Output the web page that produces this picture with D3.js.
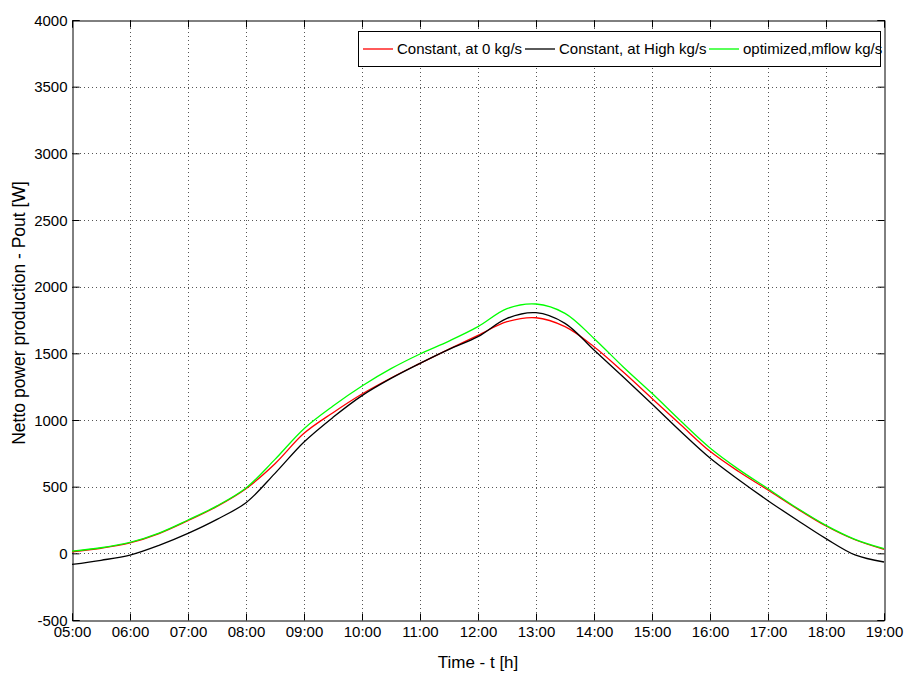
<!DOCTYPE html>
<html>
<head>
<meta charset="utf-8">
<script src="https://cdn.jsdelivr.net/npm/d3@7"></script>
<style>
body { margin: 0; background: #fff; }
text { font-family: "Liberation Sans", Arial, sans-serif; }
</style>
</head>
<body>
<div id="chart"></div>
<script>
// hours from 05:00 to 19:00, half hour steps
var hours = [5, 5.5, 6, 6.5, 7, 7.5, 8, 8.5, 9, 9.5, 10, 10.5, 11, 11.5, 12,
             12.5, 13, 13.5, 14, 14.5, 15, 15.5, 16, 16.5, 17, 17.5, 18, 18.5, 19];

var constZero = [12, 38, 78, 148, 245, 352, 485, 672, 900, 1055, 1195, 1315, 1425, 1532, 1635,
                 1737, 1767, 1700, 1550, 1362, 1162, 962, 765, 612, 475, 335, 205, 102, 30];
var constHigh = [-83, -52, -13, 60, 150, 255, 380, 600, 835, 1020, 1183, 1312, 1425, 1530, 1625,
                 1762, 1805, 1725, 1525, 1325, 1120, 912, 715, 550, 395, 250, 110, -12, -65];
var optimized = [17, 42, 82, 152, 250, 356, 490, 705, 935, 1105, 1255, 1385, 1495, 1592, 1700,
                 1835, 1870, 1800, 1612, 1400, 1200, 990, 790, 628, 485, 340, 210, 105, 35];

var seriesNames = ["Constant, at 0 kg/s", "Constant, at High kg/s", "optimized,mflow kg/s"];
var seriesColors = ["#ff0000", "#000000", "#00ff00"];
var seriesValues = [constZero, constHigh, optimized];

var xTicks = [5, 6, 7, 8, 9, 10, 11, 12, 13, 14, 15, 16, 17, 18, 19];
var yTicks = [-500, 0, 500, 1000, 1500, 2000, 2500, 3000, 3500, 4000];

var W = 907, H = 675;
var plotLeft = 72, plotRight = 884, plotTop = 20, plotBottom = 620;

var svg = d3.select("#chart").append("svg")
    .attr("width", W)
    .attr("height", H);

var x = d3.scaleLinear().domain([5, 19]).range([plotLeft, plotRight]);
var y = d3.scaleLinear().domain([-500, 4000]).range([plotBottom, plotTop]);

function hhmm(h) {
    return (h < 10 ? "0" : "") + h + ":00";
}

// grid
var grid = svg.append("g");
grid.selectAll(".vg")
    .data(xTicks.slice(1, -1))
    .enter()
    .append("line")
    .attr("x1", d => Math.round(x(d)) + 0.5)
    .attr("x2", d => Math.round(x(d)) + 0.5)
    .attr("y1", plotTop)
    .attr("y2", plotBottom)
    .attr("stroke", "#555")
    .attr("stroke-dasharray", "1,3");
grid.selectAll(".hg")
    .data(yTicks.slice(1, -1))
    .enter()
    .append("line")
    .attr("x1", plotLeft)
    .attr("x2", plotRight)
    .attr("y1", d => Math.round(y(d)) + 0.5)
    .attr("y2", d => Math.round(y(d)) + 0.5)
    .attr("stroke", "#555")
    .attr("stroke-dasharray", "1,3");

// axes, ticks pointing inward
var xAxis = d3.axisBottom(x).tickValues(xTicks).tickFormat(hhmm).tickSize(-7).tickPadding(7);
var yAxis = d3.axisLeft(y).tickValues(yTicks).tickFormat(d => String(d)).tickSize(-7).tickPadding(5);

var gx = svg.append("g")
    .attr("transform", "translate(0," + (plotBottom + 0.5) + ")")
    .call(xAxis);
var gy = svg.append("g")
    .attr("transform", "translate(" + (plotLeft + 0.5) + ",0)")
    .call(yAxis);

// top and right axes without labels
var gxTop = svg.append("g")
    .attr("transform", "translate(0," + (plotTop + 0.5) + ")")
    .call(d3.axisTop(x).tickValues(xTicks).tickSize(-7).tickFormat(""));
var gyRight = svg.append("g")
    .attr("transform", "translate(" + (plotRight + 0.5) + ",0)")
    .call(d3.axisRight(y).tickValues(yTicks).tickSize(-7).tickFormat(""));

[gx, gy, gxTop, gyRight].forEach(function (g) {
    g.select(".domain").attr("stroke", "#000");
    g.selectAll(".tick line").attr("stroke", "#000");
    g.selectAll(".tick text")
        .attr("fill", "#000")
        .style("font-size", "15px");
});
gx.selectAll(".tick text").attr("dy", "0.6em");
gy.selectAll(".tick text").attr("dy", "0.35em");

// axis labels
svg.append("text")
    .attr("x", (plotLeft + plotRight) / 2)
    .attr("y", 668)
    .attr("text-anchor", "middle")
    .style("font-size", "17px")
    .text("Time - t [h]");

svg.append("text")
    .attr("transform", "translate(25," + ((plotTop + plotBottom) / 2 - 7) + ") rotate(-90)")
    .attr("text-anchor", "middle")
    .style("font-size", "17.5px")
    .text("Netto power production - Pout [W]");

// lines
var line = d3.line()
    .x((d, i) => x(hours[i]))
    .y(d => y(d))
    .curve(d3.curveCatmullRom);

svg.append("g")
    .selectAll("path")
    .data(seriesValues)
    .enter()
    .append("path")
    .attr("d", d => line(d))
    .attr("fill", "none")
    .attr("stroke", (d, i) => seriesColors[i])
    .attr("stroke-width", 1.3);

// legend
var legend = svg.append("g");
legend.append("rect")
    .attr("x", 358.5)
    .attr("y", 31.5)
    .attr("width", 522)
    .attr("height", 35)
    .attr("fill", "#fff")
    .attr("stroke", "#000");

var legendX = [363, 525, 709];
seriesNames.forEach(function (name, i) {
    legend.append("line")
        .attr("x1", legendX[i])
        .attr("x2", legendX[i] + 30)
        .attr("y1", 49)
        .attr("y2", 49)
        .attr("stroke", seriesColors[i])
        .attr("stroke-width", 1.3);
    legend.append("text")
        .attr("x", legendX[i] + 34)
        .attr("y", 49)
        .attr("dy", "0.35em")
        .style("font-size", "15px")
        .text(name);
});
</script>
</body>
</html>
